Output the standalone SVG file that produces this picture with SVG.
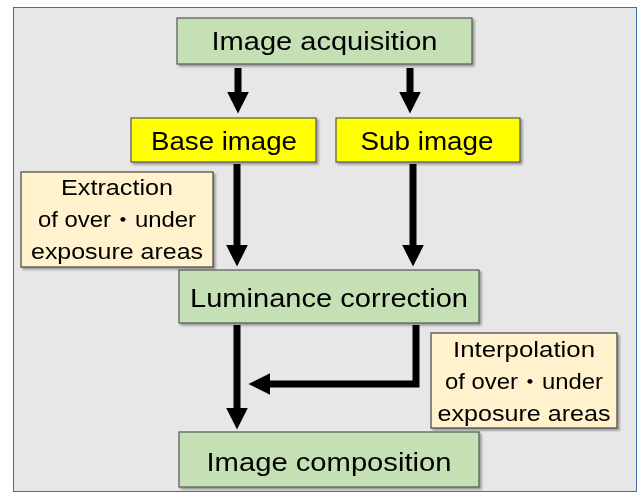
<svg xmlns="http://www.w3.org/2000/svg" width="640" height="495" viewBox="0 0 640 495">
<style>
.t{font-family:"Liberation Sans","Noto Sans CJK JP",sans-serif;fill:#000;text-anchor:middle}
.big{font-size:26px}
.small{font-size:22px}
.green{fill:#c5e0b4;stroke:#555;stroke-width:1.2}
.yellow{fill:#ffff00;stroke:#555;stroke-width:1.2}
.note{fill:#fff2cc;stroke:#444;stroke-width:1.2}
.conn{fill:none;stroke:#000;stroke-width:7;marker-end:url(#ah)}
</style>
<defs>
<marker id="ah" viewBox="0 0 10 10" refX="2" refY="5" markerUnits="userSpaceOnUse" markerWidth="22" markerHeight="22" orient="auto">
<path d="M0,0 L10,5 L0,10 Z" fill="#000"/>
</marker>
<filter id="sh" x="-5%" y="-5%" width="115%" height="125%">
<feDropShadow dx="2" dy="2" stdDeviation="1.2" flood-color="#000" flood-opacity="0.35"/>
</filter>
</defs>
<rect x="13.5" y="7.5" width="623" height="484" fill="#e7e7e7" stroke="#3d6fb0" stroke-width="1"/>
<g id="connectors">
<path class="conn" d="M238,68 V96"/>
<path class="conn" d="M410,68 V96"/>
<path class="conn" d="M237,164 V249"/>
<path class="conn" d="M413,164 V249"/>
<path class="conn" d="M237,325 V412"/>
<path class="conn" d="M416,325 V384 H266"/>
</g>
<g id="n-acq" filter="url(#sh)">
<rect class="green" x="177" y="18" width="295" height="46"/>
<text class="t big" x="324.5" y="50" textLength="226" lengthAdjust="spacingAndGlyphs">Image acquisition</text>
</g>
<g id="n-base" filter="url(#sh)">
<rect class="yellow" x="131" y="118" width="185" height="44"/>
<text class="t big" x="224" y="150" textLength="146" lengthAdjust="spacingAndGlyphs">Base image</text>
</g>
<g id="n-sub" filter="url(#sh)">
<rect class="yellow" x="336" y="118" width="184" height="44"/>
<text class="t big" x="427" y="150" textLength="133" lengthAdjust="spacingAndGlyphs">Sub image</text>
</g>
<g id="n-extract" filter="url(#sh)">
<rect class="note" x="21" y="172" width="192" height="95"/>
<text class="t small" x="117" y="195" textLength="112" lengthAdjust="spacingAndGlyphs">Extraction</text>
<text class="t small" x="117" y="227" textLength="158" lengthAdjust="spacingAndGlyphs">of over・under</text>
<text class="t small" x="117" y="259" textLength="172" lengthAdjust="spacingAndGlyphs">exposure areas</text>
</g>
<g id="n-lum" filter="url(#sh)">
<rect class="green" x="179" y="270" width="300" height="53"/>
<text class="t big" x="329" y="307" textLength="278" lengthAdjust="spacingAndGlyphs">Luminance correction</text>
</g>
<g id="n-interp" filter="url(#sh)">
<rect class="note" x="431" y="333" width="186" height="95"/>
<text class="t small" x="524" y="357" textLength="142" lengthAdjust="spacingAndGlyphs">Interpolation</text>
<text class="t small" x="524" y="389" textLength="158" lengthAdjust="spacingAndGlyphs">of over・under</text>
<text class="t small" x="524" y="421" textLength="173" lengthAdjust="spacingAndGlyphs">exposure areas</text>
</g>
<g id="n-comp" filter="url(#sh)">
<rect class="green" x="179" y="432" width="300" height="55"/>
<text class="t big" x="329" y="471" textLength="245" lengthAdjust="spacingAndGlyphs">Image composition</text>
</g>
</svg>
